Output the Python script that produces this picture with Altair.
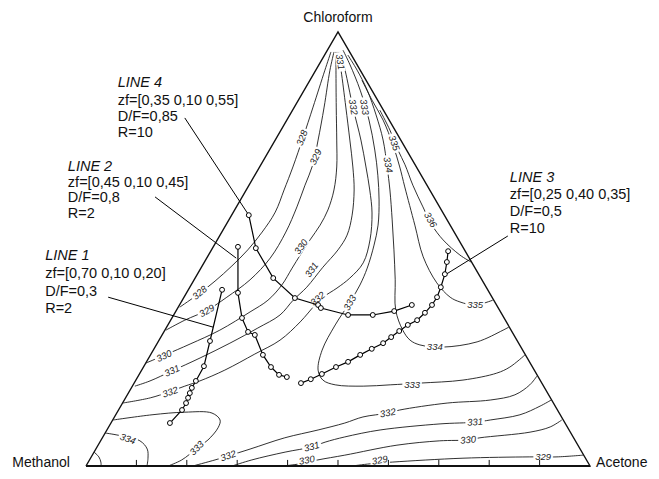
import altair as alt
import pandas as pd

# ---------------------------------------------------------------
# Ternary compositions in percent: (acetone, chloroform); methanol = rest
# ---------------------------------------------------------------
ISO_328_L = [(0.3,36.6),(2.7,39.9),(4.3,42.6),(5.9,46.1),(7.2,49.8),(8.0,53.9),(8.3,58.5),(7.5,63.6),(6.6,68.9),(5.2,75.8),(3.7,82.7),(1.8,91.2),(0.9,95.4)]
ISO_329_L = [(0.2,31.3),(2.8,33.6),(6.1,35.9),(8.5,38.9),(11.1,42.9),(12.6,47.9),(12.7,53.9),(12.0,59.7),(11.1,64.7),(10.3,69.4),(8.5,75.1),(5.9,82.7),(2.8,91.2),(1.5,95.4)]
ISO_330_L = [(0.0,23.7),(2.9,25.6),(6.6,28.1),(10.9,31.3),(14.8,35.5),(17.0,38.2),(18.0,41.7),(18.1,45.6),(18.2,48.6),(18.4,52.1),(18.7,55.5),(18.5,59.0),(17.4,63.6),(15.3,68.9),(12.2,75.1),(8.3,82.7),(4.0,91.2),(1.9,95.4)]
ISO_331_L = [(0.5,18.4),(2.9,19.6),(6.1,21.9),(10.2,24.9),(14.4,28.3),(18.2,31.8),(21.1,34.8),(22.0,38.2),(23.2,41.2),(24.1,45.8),(25.1,49.8),(25.2,53.2),(23.9,57.8),(21.4,63.6),(18.5,68.9),(14.8,75.1),(10.2,82.7),(5.0,91.2),(2.3,95.4)]
ISO_332_L = [(0.0,14.5),(4.9,15.7),(7.8,17.0),(10.4,18.4),(12.8,19.6),(16.5,22.1),(20.6,25.8),(24.0,29.0),(25.9,33.2),(26.9,37.1),(27.6,38.9),(29.3,41.0),(30.7,43.3),(31.6,46.8),(30.3,52.1),(27.6,58.3),(24.5,63.6),(21.1,68.9),(17.0,75.1),(11.6,82.7),(5.8,91.2),(2.7,95.4)]
ISO_333_R = [(74.3,25.6),(72.7,22.8),(70.8,21.4),(64.9,19.8),(56.7,19.1),(51.0,18.7),(45.8,18.4),(40.1,18.7),(37.1,19.8),(35.0,22.1),(33.5,26.7),(33.2,32.5),(33.5,37.8),(33.5,41.7),(33.0,45.6),(31.7,50.9),(30.2,55.5),(27.5,61.3),(24.4,67.0),(20.9,72.8),(16.3,79.7),(11.1,86.6),(6.2,92.4),(3.1,95.8)]
ISO_334_R = [(67.9,32.0),(67.1,31.3),(63.3,28.6),(57.1,27.4),(52.3,27.9),(49.8,29.0),(47.2,31.3),(43.5,35.9),(39.9,42.9),(36.2,49.8),(32.4,56.7),(28.5,63.6),(25.3,68.9),(21.4,75.1),(17.1,80.9),(12.5,86.6),(8.2,91.2),(4.6,94.7)]
ISO_335_R = [(61.6,38.2),(58.6,37.1),(55.3,37.8),(52.8,38.9),(48.5,42.2),(42.8,48.2),(37.5,55.5),(31.1,64.3),(27.8,68.9),(23.9,74.0),(19.1,79.7),(14.6,84.3),(10.3,88.9)]
ISO_336_R = [(52.9,47.0),(49.9,48.6),(44.8,52.1),(40.9,55.5),(37.0,59.7),(32.5,64.7),(28.6,69.4),(25.5,72.8),(21.6,77.4),(17.3,82.0)]
ISO_333_M = [(0.1,10.6),(7.2,11.8),(13.4,12.4),(18.9,12.2),(21.3,10.6),(21.8,8.8),(21.2,6.0),(20.0,4.1),(18.3,1.4),(16.3,0.0)]
ISO_334_M = [(0.0,7.6),(2.8,7.1),(7.8,5.8),(10.2,3.9),(11.4,1.8),(12.1,0.0)]
ISO_335_M = [(0.0,3.2),(1.5,2.1),(2.5,0.9),(3.0,0.0)]
ISO_332_B = [(21.2,0.0),(24.9,1.4),(27.0,2.3),(30.6,3.9),(36.2,6.5),(41.9,8.3),(46.4,9.9),(49.3,11.3),(53.8,12.2),(55.8,12.9),(64.4,14.5),(72.6,15.2),(76.9,16.4),(78.7,18.7),(79.1,20.7)]
ISO_331_B = [(29.0,0.0),(32.2,1.4),(37.9,3.2),(42.6,4.4),(44.7,5.5),(48.0,6.7),(54.2,8.3),(65.4,9.7),(72.2,10.1),(74.9,10.6),(80.2,11.8),(83.2,13.8),(84.7,15.2)]
ISO_330_B = [(39.1,0.0),(42.2,0.5),(45.3,1.4),(50.1,2.5),(59.3,4.8),(67.3,5.8),(72.8,6.0),(74.9,6.5),(84.2,7.8),(87.6,9.0),(89.1,10.6)]
ISO_329_B = [(52.8,0.0),(56.1,0.5),(60.3,0.9),(73.9,1.8),(87.0,2.1),(92.4,2.1),(97.4,2.5)]

# column profiles (acetone %, chloroform %)
LINE_1 = [(6.7,40.6),(10.2,28.8),(11.9,23.0),(12.0,19.6),(12.0,18.0),(12.2,16.8),(12.4,15.7),(12.6,14.5),(12.6,12.9),(11.7,9.9)]
LINE_2 = [(4.9,50.5),(10.2,39.9),(13.9,34.1),(16.7,30.9),(18.4,30.2),(22.3,25.6),(25.3,22.8),(27.8,21.0),(29.6,20.5)]
LINE_3 = [(33.1,19.1),(34.6,20.0),(36.2,21.2),(38.2,22.8),(40.0,24.0),(41.6,25.6),(43.2,27.0),(44.8,28.3),(45.7,29.7),(46.6,31.1),(47.6,32.5),(48.9,33.6),(49.6,35.3),(50.1,37.1),(50.2,38.9),(49.8,41.2),(49.1,44.2),(48.1,47.0),(47.1,49.5)]
LINE_4 = [(3.4,57.8),(8.6,50.2),(15.5,43.3),(22.1,38.7),(27.5,37.1),(28.4,36.4),(34.6,34.8),(39.5,34.8),(43.3,35.7),(46.1,37.1)]

# isotherm labels: text, X, Y (diagram coords, % of base / % of height), angle
ISO_LABEL_TEXT = ["328","329","330","331","332","328","329","330","331","332","333","331","332","333","334","335","336",
                  "335","334","333","332","331","330","329","329","330","331","332","333","334"]
ISO_LABEL_X = [22.6,24.0,15.5,17.1,16.7,42.9,45.6,42.7,44.8,46.0,52.4,50.4,53.0,55.2,59.9,61.1,68.3,
               77.2,69.2,64.7,59.9,77.2,75.8,90.7,58.3,43.8,44.8,28.2,22.0,8.3]
ISO_LABEL_Y = [39.9,35.7,25.3,21.9,17.0,75.6,71.2,50.5,45.2,38.5,37.6,93.1,82.7,82.7,69.4,74.4,56.7,
               37.1,27.4,18.7,12.2,10.1,6.0,2.1,1.3,1.3,4.4,2.3,4.1,6.2]
ISO_LABEL_ANGLE = [320,330,335,335,340,290,295,305,305,320,300,80,80,80,80,70,60,
                   0,0,0,350,355,355,0,350,350,345,340,315,20]

# annotations (diagram coords)
NOTE_TEXT = ["LINE 4","zf=[0,35 0,10 0,55]","D/F=0,85","R=10",
             "LINE 2","zf=[0,45 0,10 0,45]","D/F=0,8","R=2",
             "LINE 1","zf=[0,70 0,10 0,20]","D/F=0,3","R=2",
             "LINE 3","zf=[0,25 0,40 0,35]","D/F=0,5","R=10"]
NOTE_X = [6.3]*4 + [-3.6]*4 + [-8.1]*4 + [84.1]*4
NOTE_Y = [88.2,84.1,80.4,76.7, 68.9,65.2,61.7,58.1, 48.4,44.2,40.1,36.2, 66.4,62.4,58.5,54.6]
NOTE_ITALIC = [True,False,False,False]*4

LEADER_X = [19.6,13.7,4.4,83.7]
LEADER_Y = [80.2,62.0,38.9,53.0]
LEADER_X2 = [32.3,29.8,25.2,71.2]
LEADER_Y2 = [57.8,47.9,32.0,44.0]

VERTEX_NAMES = ["Chloroform","Methanol","Acetone"]
VERTEX_X = [50.0,-3.2,101.2]
VERTEX_Y = [103.2,0.8,0.8]
VERTEX_ALIGN = ["center","right","left"]

TICK_A = [10,20,30,40,50,60,70,80,90]

# ---------------------------------------------------------------
FONT = "Liberation Sans"
xs = alt.Scale(domain=[-15.476, 112.103], nice=False, zero=False)
ys = alt.Scale(domain=[-1.152, 105.53], nice=False, zero=False)
X = alt.X("X:Q", scale=xs, axis=None)
Y = alt.Y("Y:Q", scale=ys, axis=None)


def frame(name, pts):
    return pd.DataFrame({"name": name, "i": list(range(len(pts))),
                         "a": [p[0] for p in pts], "c": [p[1] for p in pts]})


def tern(chart):
    return chart.transform_calculate(X="datum.a + datum.c / 2", Y="datum.c")


isos = {"328L": ISO_328_L, "329L": ISO_329_L, "330L": ISO_330_L, "331L": ISO_331_L,
        "332L": ISO_332_L, "333R": ISO_333_R, "334R": ISO_334_R, "335R": ISO_335_R,
        "336R": ISO_336_R, "333M": ISO_333_M, "334M": ISO_334_M, "335M": ISO_335_M,
        "332B": ISO_332_B, "331B": ISO_331_B, "330B": ISO_330_B, "329B": ISO_329_B}
iso_df = pd.concat([frame(k, v) for k, v in isos.items()], ignore_index=True)

prof_df = pd.concat([frame("L1", LINE_1), frame("L2", LINE_2),
                     frame("L3", LINE_3), frame("L4", LINE_4)], ignore_index=True)

tri_df = frame("tri", [(0, 0), (100, 0), (0, 100), (0, 0)])
base_df = frame("base", [(0, 0), (100, 0)])
tick_df = pd.DataFrame({"a": TICK_A})

lab_df = pd.DataFrame({"t": ISO_LABEL_TEXT, "X": ISO_LABEL_X, "Y": ISO_LABEL_Y,
                       "ang": ISO_LABEL_ANGLE})
note_df = pd.DataFrame({"t": NOTE_TEXT, "X": NOTE_X, "Y": NOTE_Y, "it": NOTE_ITALIC})
lead_df = pd.DataFrame({"X": LEADER_X, "Y": LEADER_Y, "X2": LEADER_X2, "Y2": LEADER_Y2})
vert_df = pd.DataFrame({"t": VERTEX_NAMES, "X": VERTEX_X, "Y": VERTEX_Y, "al": VERTEX_ALIGN})

contours = tern(alt.Chart(iso_df)).mark_line(
    interpolate="catmull-rom", stroke="#1a1a1a", strokeWidth=0.9
).encode(x=X, y=Y, detail="name:N", order="i:Q")

lab_bg = alt.Chart(lab_df).mark_point(
    shape="M-1,-0.42L1,-0.42L1,0.42L-1,0.42Z", filled=True, color="white",
    opacity=1, strokeWidth=0, size=380
).encode(x=X, y=Y, angle=alt.Angle("ang:Q", scale=None))

labels = alt.Chart(lab_df).mark_text(
    font=FONT, fontSize=9.5, fontStyle="italic", color="#222"
).encode(x=X, y=Y, text="t:N", angle=alt.Angle("ang:Q", scale=None))

ticks = alt.Chart(tick_df).transform_calculate(
    X="datum.a", Y="0", Y2="1.4"
).mark_rule(stroke="#111", strokeWidth=1).encode(x=X, y=Y, y2="Y2:Q")

triangle = tern(alt.Chart(tri_df)).mark_line(stroke="#111", strokeWidth=1.4).encode(
    x=X, y=Y, order="i:Q")
base = tern(alt.Chart(base_df)).mark_line(stroke="#111", strokeWidth=2.2).encode(
    x=X, y=Y, order="i:Q")

prof_lines = tern(alt.Chart(prof_df)).mark_line(stroke="#000", strokeWidth=1.2).encode(
    x=X, y=Y, detail="name:N", order="i:Q")
prof_pts = tern(alt.Chart(prof_df)).mark_point(
    shape="circle", filled=True, fill="white", stroke="#000", strokeWidth=1,
    size=24, opacity=1
).encode(x=X, y=Y)

leaders = alt.Chart(lead_df).mark_rule(stroke="#000", strokeWidth=1).encode(
    x=X, y=Y, x2="X2:Q", y2="Y2:Q")

notes_it = alt.Chart(note_df).transform_filter("datum.it").mark_text(
    font=FONT, fontSize=14.5, fontStyle="italic", align="left", baseline="middle",
    color="#111").encode(x=X, y=Y, text="t:N")
notes = alt.Chart(note_df).transform_filter("!datum.it").mark_text(
    font=FONT, fontSize=14.5, align="left", baseline="middle", color="#111"
).encode(x=X, y=Y, text="t:N")

v_c = alt.Chart(vert_df).transform_filter("datum.al == 'center'").mark_text(
    font=FONT, fontSize=14, align="center", baseline="middle", color="#111"
).encode(x=X, y=Y, text="t:N")
v_r = alt.Chart(vert_df).transform_filter("datum.al == 'right'").mark_text(
    font=FONT, fontSize=14, align="right", baseline="middle", color="#111"
).encode(x=X, y=Y, text="t:N")
v_l = alt.Chart(vert_df).transform_filter("datum.al == 'left'").mark_text(
    font=FONT, fontSize=14, align="left", baseline="middle", color="#111"
).encode(x=X, y=Y, text="t:N")

chart = alt.layer(
    contours, lab_bg, labels, ticks, triangle, base, leaders,
    prof_lines, prof_pts, notes_it, notes, v_c, v_r, v_l
).properties(
    width=643, height=463, padding=0,
    autosize=alt.AutoSizeParams(type="none")
).configure_view(stroke=None)

chart.save("out.html", embed_options={"renderer": "svg", "actions": False})
